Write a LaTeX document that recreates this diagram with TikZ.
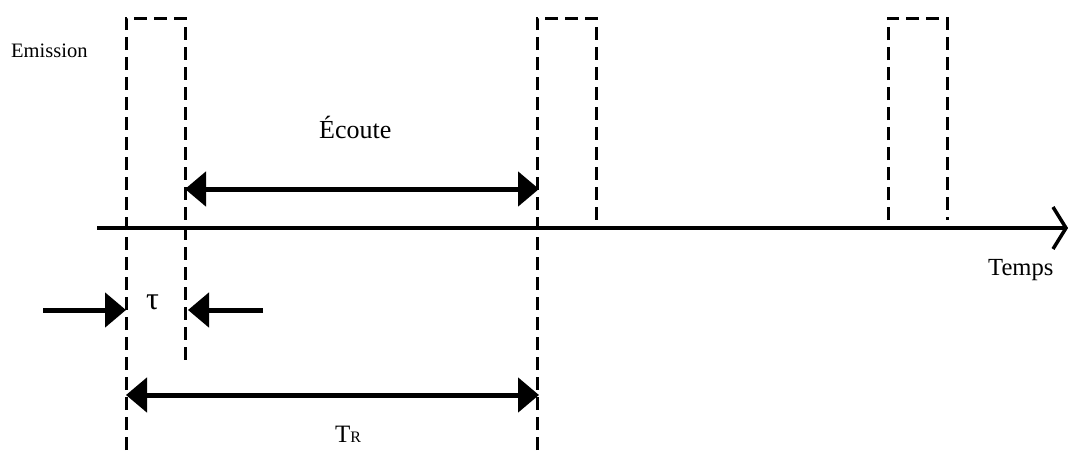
\documentclass[tikz,border=0pt]{standalone}
\usepackage{fontspec}
\setmainfont{Liberation Serif}
\usetikzlibrary{arrows.meta}
\tikzset{
  pulse/.style={line width=3pt, dash pattern=on 13pt off 7pt},
  axisline/.style={line width=4pt},
  dimarrow/.style={line width=5pt, -{Triangle[length=21pt,width=34pt]}},
  dimboth/.style={line width=5pt, {Triangle[length=21pt,width=34pt]}-{Triangle[length=21pt,width=34pt]}},
  lbl/.style={inner sep=0pt, anchor=base west}
}
\begin{document}
\begin{tikzpicture}[x=1pt,y=-1pt]
\useasboundingbox (0,0) rectangle (1068,456);
% pulse coordinates
\coordinate (p1lb) at (126,450);
\coordinate (p1lt) at (126,18);
\coordinate (p1rt) at (185,18);
\coordinate (p1rb) at (185,360);
\coordinate (p2lb) at (537,450);
\coordinate (p2lt) at (537,18);
\coordinate (p2rt) at (596,18);
\coordinate (p2rb) at (596,220);
\coordinate (p3lb) at (888,220);
\coordinate (p3lt) at (888,18);
\coordinate (p3rt) at (947,18);
\coordinate (p3rb) at (947,220);
% pulses
\draw[pulse] (p1lb) -- (p1lt) -- (p1rt) -- (p1rb);
\draw[pulse] (p2lb) -- (p2lt) -- (p2rt) -- (p2rb);
\draw[pulse] (p3lb) -- (p3lt) -- (p3rt) -- (p3rb);
% time axis
\coordinate (ax0) at (97,228);
\coordinate (ax1) at (1066,228);
\coordinate (chu) at (1053,207);
\coordinate (chd) at (1053,249);
\draw[axisline] (ax0) -- (ax1);
\draw[line width=3.5pt] (chu) -- (ax1) -- (chd);
% Ecoute arrow
\coordinate (e0) at (185,189);
\coordinate (e1) at (539,189);
\draw[dimboth] (e0) -- (e1);
% tau arrows
\coordinate (t0) at (43,310);
\coordinate (t1) at (126,310);
\coordinate (t2) at (263,310);
\coordinate (t3) at (188,310);
\draw[dimarrow] (t0) -- (t1);
\draw[dimarrow] (t2) -- (t3);
% T_R arrow
\coordinate (r0) at (126,395);
\coordinate (r1) at (539,395);
\draw[dimboth] (r0) -- (r1);
% labels
\node[lbl, font=\fontsize{20.5}{24}\selectfont] (em) at (11,57) {Emission};
\node[lbl, font=\fontsize{26}{30}\selectfont] (ec) at (319,138) {Écoute};
\node[lbl, font=\fontsize{24.6}{28}\selectfont] (tp) at (988,275) {Temps};
\node[lbl, font=\fontsize{32}{36}\selectfont] (tau) at (146,309) {τ};
\node[lbl, font=\fontsize{25}{28}\selectfont] (tr) at (335,442) {T{\fontsize{16}{18}\selectfont R}};
\end{tikzpicture}
\end{document}
